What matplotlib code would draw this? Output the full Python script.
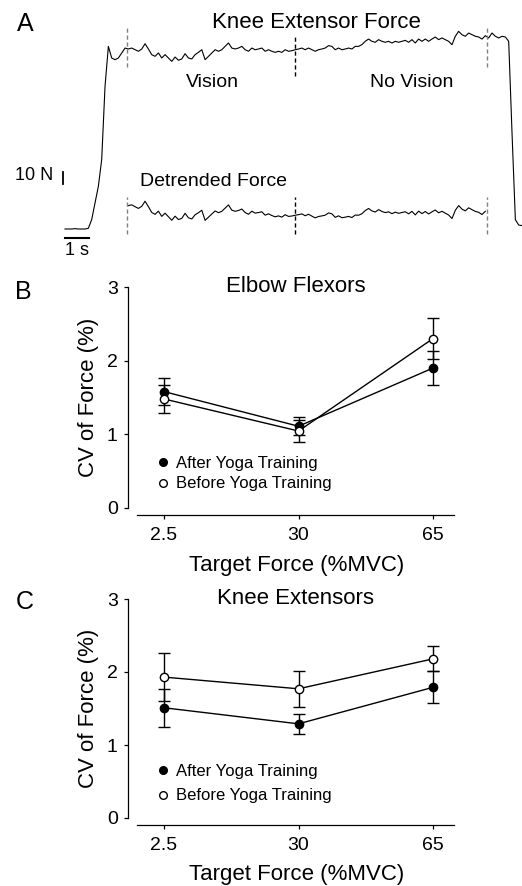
import matplotlib.pyplot as plt
from matplotlib.lines import Line2D
import numpy as np

plt.rcParams['font.family'] = ['Liberation Sans', 'DejaVu Sans']

# Panel A: knee extensor force record (N), one sample every 0.139 s
sample_interval = 0.139
knee_force = [
    0.0, 0.0, 0.0, 0.3, 0.0, 0.0, 0.0, 0.6, 7.8, 21.7,
    35.6, 57.8, 118.9, 152.2, 142.5, 141.1, 142.5, 146.7, 150.8, 150.0,
    150.8, 149.4, 148.1, 150.0, 154.4, 150.0, 145.3, 143.9, 146.7, 142.5,
    145.3, 142.5, 139.7, 143.3, 140.6, 141.7, 146.1, 142.5, 141.7, 145.3,
    147.2, 149.4, 141.1, 143.9, 146.7, 149.4, 148.1, 149.4, 152.2, 155.0,
    150.8, 150.0, 150.8, 152.2, 149.4, 148.1, 150.8, 149.4, 150.0, 150.8,
    148.1, 149.4, 148.1, 147.2, 148.1, 147.2, 149.4, 148.1, 148.6, 149.4,
    150.0, 150.8, 149.4, 150.8, 149.4, 148.1, 149.4, 150.0, 150.8, 152.8,
    152.2, 149.4, 150.8, 149.4, 150.0, 150.8, 150.0, 152.2, 152.2, 153.6,
    156.4, 158.3, 156.4, 155.6, 157.8, 156.4, 155.6, 156.4, 155.0, 156.4,
    155.6, 156.4, 157.2, 155.6, 157.8, 155.0, 158.3, 156.4, 158.3, 156.4,
    158.3, 160.0, 157.8, 159.2, 157.8, 156.4, 153.6, 160.6, 164.7, 161.9,
    160.6, 163.3, 161.9, 160.6, 160.0, 158.3, 161.1, 159.2, 163.3, 160.6,
    159.2, 160.6, 160.0, 156.4, 80.0, 7.8, 3.3, 2.8,
]
vision_on = 2.6     # s
vision_off = 9.6    # s
trial_end = 17.6    # s

# Panels B and C: CV of force (%), mean and error
target_labels = ['2.5', '30', '65']
elbow_after = [1.58, 1.11, 1.90]
elbow_after_err = [0.18, 0.12, 0.23]
elbow_before = [1.48, 1.045, 2.30]
elbow_before_err = [0.19, 0.15, 0.28]
knee_after = [1.51, 1.29, 1.79]
knee_after_err = [0.26, 0.14, 0.22]
knee_before = [1.93, 1.77, 2.18]
knee_before_err = [0.33, 0.25, 0.17]

W, H = 522, 886
fig = plt.figure(figsize=(W / 100, H / 100), dpi=100)

# ---------- panel A ----------
axA = fig.add_axes([0, 1 - 260 / H, 1, 260 / H])
axA.set_xlim(-65 / 24, 457 / 24)
axA.set_ylim(-31 / 1.2, 229 / 1.2)
axA.axis('off')

t = np.arange(len(knee_force)) * sample_interval
f = np.array(knee_force)
axA.plot(t, f, color='k', lw=0.8)

win = (t >= vision_on) & (t <= trial_end)
coef = np.polyfit(t[win], f[win], 1)
detrended = f[win] - np.polyval(coef, t[win])
axA.plot(t[win], detrended + 13.3, color='k', lw=0.8)

dash = (0, (3, 2))
for tm, col, top, bot in [(vision_on, '0.5', 167.5, 135), (vision_off, 'k', 160.8, 127.5),
                          (trial_end, '0.5', 167.5, 135)]:
    axA.plot([tm, tm], [bot, top], ls=dash, color=col, lw=1)
    axA.plot([tm, tm], [-4.2, 26.7], ls=dash, color=col, lw=1)

# scale bars
axA.plot([-0.083, -0.083], [37.5, 47.5], color='k', lw=1.3, clip_on=False)
axA.plot([0, 1], [-7.5, -7.5], color='k', lw=1.5, clip_on=False)
axA.text(-0.5, 45, '10 N', ha='right', va='center', fontsize=13)
axA.text(0.5, -10.5, '1 s', ha='center', va='top', fontsize=13)

axA.text(10.46, 171.7, 'Knee Extensor Force', ha='center', va='center', fontsize=16)
axA.text(6.125, 121.7, 'Vision', ha='center', va='center', fontsize=14)
axA.text(14.46, 121.7, 'No Vision', ha='center', va='center', fontsize=14)
axA.text(6.17, 39.2, 'Detrended Force', ha='center', va='center', fontsize=14)
fig.text(25 / W, 1 - 24 / H, 'A', ha='center', va='center', fontsize=18)


# ---------- panels B, C ----------
def cv_panel(top_px, bottom_px, title, after, after_err, before, before_err, spacing):
    ax = fig.add_axes([128 / W, 1 - bottom_px / H, 326 / W, (bottom_px - top_px) / H])
    x = np.arange(len(target_labels))
    ax.errorbar(x, after, yerr=after_err, fmt='-o', color='k', mfc='k', mec='k', ms=6,
                lw=1, elinewidth=1, capsize=4, capthick=1, zorder=3, clip_on=False)
    ax.errorbar(x, before, yerr=before_err, fmt='-o', color='k', mfc='white', mec='k', ms=6,
                lw=1, elinewidth=1, capsize=4, capthick=1, zorder=4, clip_on=False)
    ax.set_xlim(-0.268, 2.156)
    ax.set_ylim(0, 3)
    ax.set_xticks(x)
    ax.set_xticklabels(target_labels)
    ax.set_yticks([0, 1, 2, 3])
    for s in ['top', 'right']:
        ax.spines[s].set_visible(False)
    ax.spines['left'].set_linewidth(0.9)
    ax.spines['bottom'].set_linewidth(0.9)
    ax.spines['bottom'].set_position(('outward', 5))
    ax.spines['bottom'].set_bounds(-0.2, 2.156)
    ax.tick_params(axis='y', direction='out', length=2.8, width=0.9, pad=4.5, labelsize=14)
    ax.tick_params(axis='x', direction='out', length=3, width=0.9, pad=6, labelsize=14)
    ax.set_ylabel('CV of Force (%)', fontsize=16)
    ax.yaxis.set_label_coords(-0.09, 0.5)
    ax.set_xlabel('Target Force (%MVC)', fontsize=16)
    ax.xaxis.set_label_coords(0.518, -0.212)
    ax.text(0.515, 1.0, title, transform=ax.transAxes, ha='center', va='center', fontsize=16)
    handles = [Line2D([], [], marker='o', ls='none', color='k', mfc='k', ms=5.5),
               Line2D([], [], marker='o', ls='none', color='k', mfc='white', ms=5.5)]
    ax.legend(handles, ['After Yoga Training', 'Before Yoga Training'], loc='center left',
              bbox_to_anchor=(0.087, 0.156), frameon=False, fontsize=12, borderpad=0,
              borderaxespad=0, handlelength=0.8, handletextpad=0.4, labelspacing=spacing)
    return ax


cv_panel(287, 508, 'Elbow Flexors', elbow_after, elbow_after_err, elbow_before,
         elbow_before_err, 0.35)
fig.text(23 / W, 1 - 292 / H, 'B', ha='center', va='center', fontsize=18)

cv_panel(599, 818, 'Knee Extensors', knee_after, knee_after_err, knee_before,
         knee_before_err, 0.55)
fig.text(25 / W, 1 - 602 / H, 'C', ha='center', va='center', fontsize=18)

fig.savefig('out.png', dpi=100)
